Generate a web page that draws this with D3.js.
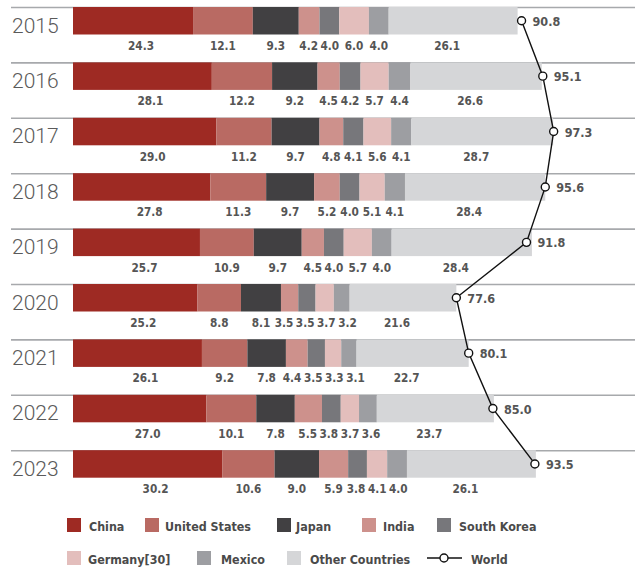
<!DOCTYPE html>
<html><head><meta charset="utf-8">
<script src="https://cdn.jsdelivr.net/npm/d3@7"></script>
<style>body{margin:0;background:#fff}</style>
</head><body>
<svg id="chart" width="635" height="568"></svg>
<script>
const years = ["2015","2016","2017","2018","2019","2020","2021","2022","2023"];
const seriesNames = ["China","United States","Japan","India","South Korea","Germany[30]","Mexico","Other Countries"];
const china   = [24.3,28.1,29.0,27.8,25.7,25.2,26.1,27.0,30.2];
const usa     = [12.1,12.2,11.2,11.3,10.9,8.8,9.2,10.1,10.6];
const japan   = [9.3,9.2,9.7,9.7,9.7,8.1,7.8,7.8,9.0];
const india   = [4.2,4.5,4.8,5.2,4.5,3.5,4.4,5.5,5.9];
const korea   = [4.0,4.2,4.1,4.0,4.0,3.5,3.5,3.8,3.8];
const germany = [6.0,5.7,5.6,5.1,5.7,3.7,3.3,3.7,4.1];
const mexico  = [4.0,4.4,4.1,4.1,4.0,3.2,3.1,3.6,4.0];
const other   = [26.1,26.6,28.7,28.4,28.4,21.6,22.7,23.7,26.1];
const world   = [90.8,95.1,97.3,95.6,91.8,77.6,80.1,85.0,93.5];
const colors = ["#9e2a23","#b96a63","#414042","#cd918c","#77777b","#e3bebc","#9d9ea2","#d5d6d8"];

const series = [china,usa,japan,india,korea,germany,mexico,other];
const rows = years.map((y,i)=>{const o={year:y}; seriesNames.forEach((n,k)=>o[n]=series[k][i]); return o;});
const stacked = d3.stack().keys(seriesNames)(rows);

const svg = d3.select("#chart");
const x = d3.scaleLinear().domain([0,100]).range([73,73+494]);
const band = d3.scaleBand().domain(years).range([7,7+55.4*9]);
const barH = 27.5;
const numFont = "'DejaVu Sans Condensed', sans-serif";
const legFont = "'DejaVu Sans Condensed', sans-serif";
const labelShift = [8,0,0,0,0,0,0,-6];

// separator lines
svg.append("g").selectAll("line").data(years).join("line")
  .attr("x1",11).attr("x2",635)
  .attr("y1",d=>band(d)+0.5).attr("y2",d=>band(d)+0.5)
  .attr("stroke","#a7a9ac").attr("stroke-width",1.6);

// year labels
svg.append("g").selectAll("text").data(years).join("text")
  .attr("x",12).attr("y",d=>band(d)+25.5)
  .attr("font-family","Roboto, sans-serif").attr("font-weight",300)
  .attr("font-size",21).attr("fill","#5a5a5a").text(d=>d);

// bars
const g = svg.append("g");
const labelsByRow = years.map(()=>[]);
stacked.forEach((s,k)=>{
  g.selectAll(null).data(s).join("rect")
    .attr("x",d=>x(d[0])).attr("width",d=>x(d[1])-x(d[0]))
    .attr("y",d=>band(d.data.year)).attr("height",barH)
    .attr("fill",colors[k]);
  g.selectAll(null).data(s).join("text")
    .attr("x",d=>(x(d[0])+x(d[1]))/2+labelShift[k]).attr("y",d=>band(d.data.year)+barH+15.5)
    .attr("text-anchor","middle")
    .attr("font-family",numFont).attr("font-weight","bold")
    .attr("font-size",11.7).attr("fill","#555")
    .text(d=>(d[1]-d[0]).toFixed(1))
    .each(function(d,i){ labelsByRow[i][k]=this; });
});
// simple de-overlap of value labels within each row
labelsByRow.forEach(labs=>{
  const p = labs.map(el=>+el.getAttribute("x"));
  const w = labs.map(el=>el.getComputedTextLength());
  for(let it=0; it<80; it++){
    for(let i=0;i<p.length-1;i++){
      const ov = (p[i]+w[i]/2+2.5) - (p[i+1]-w[i+1]/2);
      if(ov>0){ p[i]-=ov/2; p[i+1]+=ov/2; }
    }
  }
  labs.forEach((el,i)=>el.setAttribute("x",p[i]));
});

// world line
const line = d3.line().x((d,i)=>x(world[i])).y((d,i)=>band(years[i])+barH/2);
svg.append("path").datum(years).attr("d",line)
  .attr("fill","none").attr("stroke","#111").attr("stroke-width",1.4);
svg.append("g").selectAll("circle").data(years).join("circle")
  .attr("cx",(d,i)=>x(world[i])).attr("cy",d=>band(d)+barH/2).attr("r",4)
  .attr("fill","#fff").attr("stroke","#111").attr("stroke-width",1.4);
svg.append("g").selectAll("text").data(years).join("text")
  .attr("x",(d,i)=>x(world[i])+11).attr("y",d=>band(d)+barH/2+5)
  .attr("font-family",numFont).attr("font-weight","bold")
  .attr("font-size",12.5).attr("fill","#555")
  .text((d,i)=>world[i].toFixed(1));

// legend
const legendItems = [
  {n:"China",sx:67,tx:89,y:518},
  {n:"United States",sx:145,tx:165,y:518},
  {n:"Japan",sx:277,tx:296,y:518},
  {n:"India",sx:362,tx:383,y:518},
  {n:"South Korea",sx:437,tx:459,y:518},
  {n:"Germany[30]",sx:67,tx:88,y:551},
  {n:"Mexico",sx:197,tx:221,y:551},
  {n:"Other Countries",sx:287,tx:310,y:551}
];
const lg = svg.append("g");
legendItems.forEach(it=>{
  const k = seriesNames.indexOf(it.n);
  lg.append("rect").attr("x",it.sx).attr("y",it.y).attr("width",14).attr("height",14).attr("fill",colors[k]);
  lg.append("text").attr("x",it.tx).attr("y",it.y+13)
    .attr("font-family",legFont).attr("font-weight","bold")
    .attr("font-size",12.4).attr("fill","#4a4a4a").text(it.n);
});
lg.append("line").attr("x1",427).attr("x2",462).attr("y1",558).attr("y2",558).attr("stroke","#111").attr("stroke-width",1.4);
lg.append("circle").attr("cx",444).attr("cy",558).attr("r",4).attr("fill","#fff").attr("stroke","#111").attr("stroke-width",1.4);
lg.append("text").attr("x",471).attr("y",564)
  .attr("font-family",legFont).attr("font-weight","bold")
  .attr("font-size",12.4).attr("fill","#4a4a4a").text("World");
</script>
</body></html>
